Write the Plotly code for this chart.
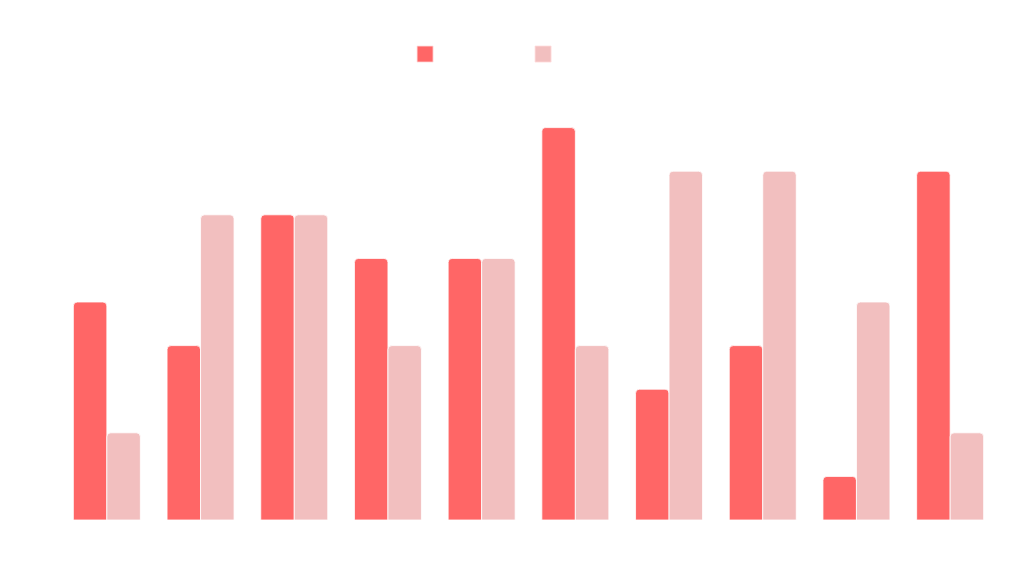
import plotly.graph_objects as go

categories = ["1", "2", "3", "4", "5", "6", "7", "8", "9", "10"]
series_a = [5, 4, 7, 6, 6, 9, 3, 4, 1, 8]
series_b = [2, 7, 7, 4, 6, 4, 8, 8, 5, 2]
series_names = ["Series A", "Series B"]
colors = ["#FF6666", "#F2BFBF"]

fig = go.Figure()
for name, vals, col in zip(series_names, [series_a, series_b], colors):
    fig.add_trace(go.Bar(
        x=categories, y=vals, name=name, showlegend=False,
        marker=dict(color=col, line=dict(color="rgba(255,255,255,0.8)", width=1)),
    ))
    fig.add_trace(go.Scatter(
        x=[None], y=[None], mode="markers", name=name,
        marker=dict(symbol="square", size=20, color=col,
                    line=dict(color="rgba(255,220,220,0.8)", width=1)),
    ))

fig.update_layout(
    width=1024, height=569,
    margin=dict(l=60, r=27, t=84, b=49, autoexpand=False),
    paper_bgcolor="white", plot_bgcolor="white",
    barmode="group", bargap=0.285, bargroupgap=0.0,
    barcornerradius=4,
    showlegend=True,
    legend=dict(orientation="h", x=0.4942, xanchor="center", y=0.905, yanchor="middle",
                yref="container", entrywidth=73,
                font=dict(color="white", size=12, family="Roboto")),
    xaxis=dict(showgrid=False, showticklabels=False, zeroline=False, showline=False, ticks=""),
    yaxis=dict(range=[0, 10], showgrid=False, showticklabels=False, zeroline=False, showline=False, ticks=""),
)

fig.write_html("out.html")
